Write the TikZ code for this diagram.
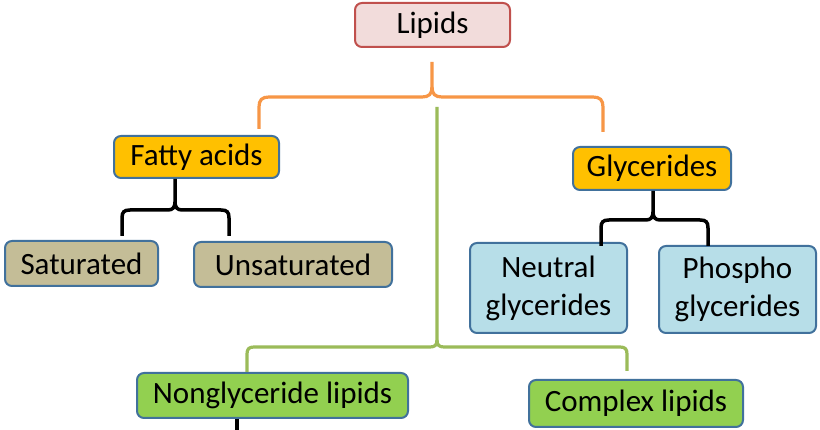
\documentclass[tikz,border=0pt]{standalone}
\usepackage{fontspec}
\setmainfont{Carlito}
\definecolor{bordblue}{HTML}{41719C}
\definecolor{lipfill}{HTML}{F2DCDB}
\definecolor{lipbord}{HTML}{C0504D}
\definecolor{gold}{HTML}{FFC000}
\definecolor{tan}{HTML}{C4BD97}
\definecolor{lblue}{HTML}{B7DEE8}
\definecolor{lgreen}{HTML}{92D050}
\definecolor{orangeline}{HTML}{F79646}
\definecolor{greenline}{HTML}{9BBB59}
\tikzset{
  box/.style={draw=bordblue, line width=2pt, rounded corners=7pt, align=center,
    inner sep=0pt, font=\fontsize{31}{38}\selectfont, text=black},
  ob/.style={draw=orangeline, line width=3.2pt},
  gb/.style={draw=greenline, line width=3.2pt},
  kb/.style={draw=black, line width=3.5pt},
}
\begin{document}
\begin{tikzpicture}[x=1pt,y=-1pt]
\useasboundingbox[fill=white] (0,0) rectangle (820,430);
\node[box, draw=lipbord, fill=lipfill, minimum width=155pt, minimum height=44pt] (lip) at (432.5,25) {Lipids};
\node[box, fill=gold, minimum width=165pt, minimum height=42pt] (fa) at (196.5,157) {Fatty acids};
\node[box, fill=gold, minimum width=158pt, minimum height=43pt] (gly) at (652,168.5) {Glycerides};
\node[box, fill=tan, minimum width=153pt, minimum height=45pt] (sat) at (81.5,263.5) {Saturated};
\node[box, fill=tan, minimum width=198pt, minimum height=45pt] (uns) at (293,264.5) {Unsaturated};
\node[box, fill=lblue, minimum width=157pt, minimum height=90pt] (neu) at (548.5,288) {Neutral\\glycerides};
\node[box, fill=lblue, minimum width=157pt, minimum height=87pt] (pho) at (737.5,289.5) {Phospho\\glycerides};
\node[box, fill=lgreen, minimum width=271pt, minimum height=45pt] (non) at (272.5,395.5) {Nonglyceride lipids};
\node[box, fill=lgreen, minimum width=214pt, minimum height=47pt] (com) at (636,403.5) {Complex lipids};
% orange brace
\coordinate (otip) at (432,62);
\draw[ob] (fa.north -| 259,0) ++(0,-6) -- (259,107) .. controls (259,100) and (262,97) .. (269,97) -- (422,97) .. controls (429,97) and (432,94) .. (432,87) -- (otip);
\draw[ob] (gly.north -| 603,0) ++(0,-14) -- (603,107) .. controls (603,100) and (600,97) .. (593,97) -- (442,97) .. controls (435,97) and (432,94) .. (432,87);
% green bracket
\coordinate (gtop) at (437,107);
\draw[gb] (non.north -| 247,0) -- (247,354) .. controls (247,349) and (249,347) .. (254,347) -- (430,347) .. controls (435,347) and (437,345) .. (437,340) -- (gtop);
\draw[gb] (com.north -| 627,0) ++(0,-8) -- (627,354) .. controls (627,349) and (625,347) .. (620,347) -- (444,347) .. controls (439,347) and (437,345) .. (437,340);
% black brace fatty acids
\draw[kb] (sat.north -| 122,0) ++(0,-4) -- (122,218) .. controls (122,212) and (124,210) .. (130,210) -- (168,210) .. controls (173,210) and (175,207) .. (175,202) -- (fa.south -| 175,0);
\draw[kb] (uns.north -| 229,0) ++(0,-5) -- (229,218) .. controls (229,212) and (227,210) .. (221,210) -- (182,210) .. controls (177,210) and (175,207) .. (175,202);
% black brace glycerides
\draw[kb] (neu.north -| 601,0) ++(0,4) -- (601,228) .. controls (601,222) and (603,220) .. (609,220) -- (646,220) .. controls (651,220) and (653,217) .. (653,212) -- (gly.south -| 653,0);
\draw[kb] (pho.north -| 708,0) ++(0,1) -- (708,228) .. controls (708,222) and (706,220) .. (700,220) -- (660,220) .. controls (655,220) and (653,217) .. (653,212);
% line below nonglyceride
\coordinate (nbot) at (237,432);
\draw[kb] (non.south -| 237,0) -- (nbot);
\end{tikzpicture}
\end{document}
